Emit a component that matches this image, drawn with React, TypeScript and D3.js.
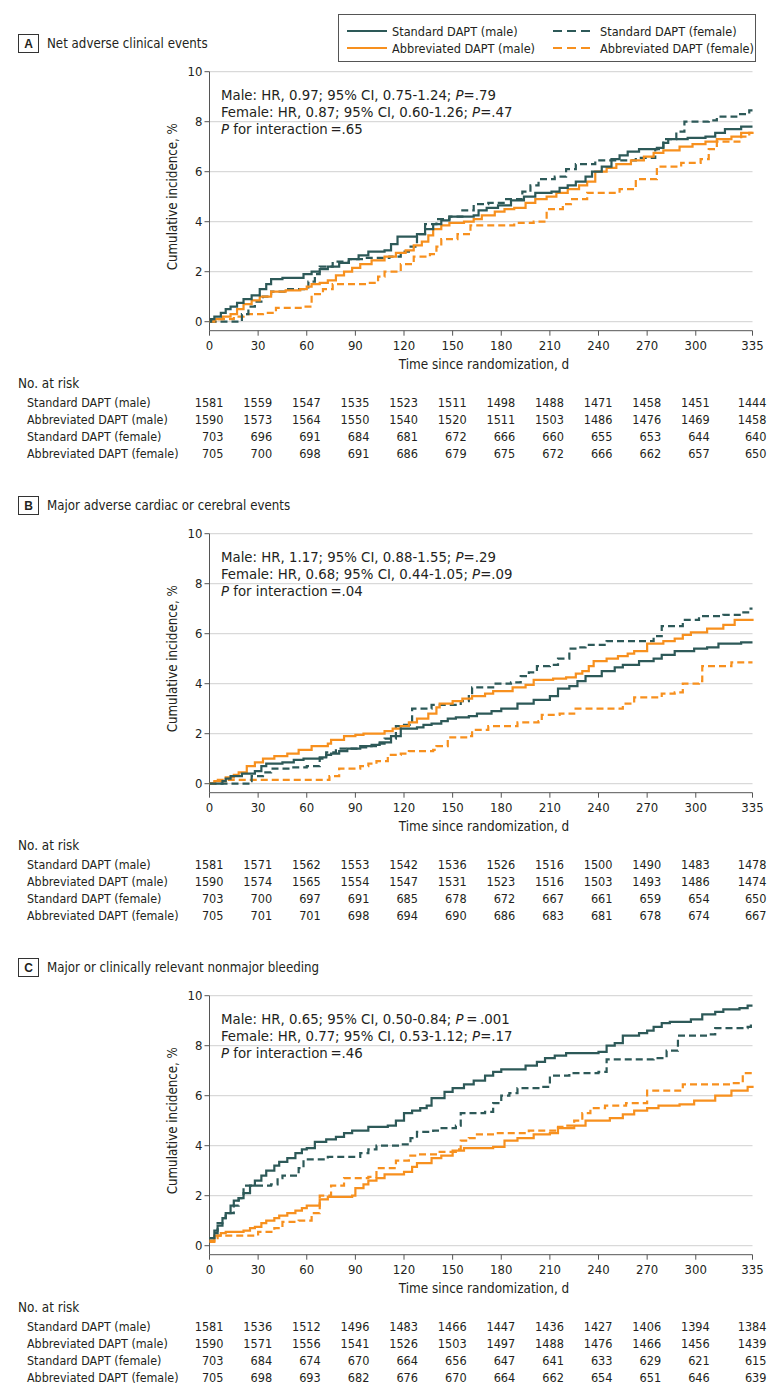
import React from 'react';
import * as d3 from 'd3';

// time axis ticks (days) and y ticks (%)
const dayTicks = [0, 30, 60, 90, 120, 150, 180, 210, 240, 270, 300, 335];
const pctTicks = [0, 2, 4, 6, 8, 10];

const groupNames = ['Standard DAPT (male)', 'Abbreviated DAPT (male)', 'Standard DAPT (female)', 'Abbreviated DAPT (female)'];
const panelLetters = ['A', 'B', 'C'];
const panelTitles = ['Net adverse clinical events', 'Major adverse cardiac or cerebral events', 'Major or clinically relevant nonmajor bleeding'];

// [prefix, text after italic P]
const statsA = [['Male: HR, 0.97; 95% CI, 0.75-1.24; ', '=.79'], ['Female: HR, 0.87; 95% CI, 0.60-1.26; ', '=.47'], ['', ' for interaction\u2009=.65']];
const statsB = [['Male: HR, 1.17; 95% CI, 0.88-1.55; ', '=.29'], ['Female: HR, 0.68; 95% CI, 0.44-1.05; ', '=.09'], ['', ' for interaction\u2009=.04']];
const statsC = [['Male: HR, 0.65; 95% CI, 0.50-0.84; ', '\u2009=\u2009.001'], ['Female: HR, 0.77; 95% CI, 0.53-1.12; ', '=.17'], ['', ' for interaction\u2009=.46']];

// cumulative incidence curves, [day, %] at each step
const aStdMale = [[0, 0], [1, 0.1], [3, 0.2], [7, 0.35], [10, 0.5], [13, 0.6], [17, 0.75], [21, 0.9], [26, 1.05], [31, 1.3], [35, 1.5], [38, 1.7], [45, 1.75], [53, 1.75], [58, 1.9], [63, 2.0], [68, 2.1], [73, 2.2], [80, 2.35], [86, 2.5], [92, 2.65], [98, 2.8], [108, 2.85], [112, 3.1], [116, 3.4], [128, 3.5], [133, 3.7], [138, 3.9], [143, 4.05], [148, 4.2], [163, 4.25], [166, 4.45], [171, 4.55], [178, 4.65], [186, 4.85], [194, 5.0], [201, 5.15], [211, 5.2], [216, 5.35], [221, 5.45], [226, 5.6], [232, 5.8], [236, 6.0], [242, 6.2], [248, 6.5], [253, 6.65], [258, 6.8], [265, 6.9], [276, 6.95], [280, 7.15], [283, 7.3], [295, 7.35], [306, 7.4], [312, 7.55], [318, 7.7], [328, 7.8], [335, 7.8]];
const aAbbMale = [[0, 0], [3, 0.1], [8, 0.2], [13, 0.3], [17, 0.5], [21, 0.7], [26, 0.85], [31, 1.0], [38, 1.2], [47, 1.25], [56, 1.3], [60, 1.4], [63, 1.5], [68, 1.55], [73, 1.65], [78, 1.85], [83, 2.0], [88, 2.15], [93, 2.3], [100, 2.45], [108, 2.6], [115, 2.75], [121, 2.85], [126, 3.05], [131, 3.2], [135, 3.45], [138, 3.7], [143, 3.85], [148, 3.95], [157, 4.0], [163, 4.1], [168, 4.25], [176, 4.4], [182, 4.5], [188, 4.55], [195, 4.75], [201, 4.9], [208, 5.0], [214, 5.15], [221, 5.3], [228, 5.45], [233, 5.6], [238, 6.0], [245, 6.15], [251, 6.3], [260, 6.45], [268, 6.6], [274, 6.75], [280, 6.85], [290, 7.0], [298, 7.1], [306, 7.2], [313, 7.3], [322, 7.4], [328, 7.55], [335, 7.6]];
const aStdFemale = [[0, 0], [20, 0.3], [24, 0.6], [28, 0.8], [33, 1.0], [38, 1.2], [47, 1.3], [56, 1.3], [61, 1.6], [65, 1.9], [68, 2.2], [76, 2.4], [86, 2.5], [96, 2.55], [111, 2.6], [118, 2.8], [123, 3.0], [128, 3.5], [133, 3.9], [140, 4.1], [148, 4.2], [156, 4.45], [163, 4.7], [172, 4.75], [183, 4.9], [193, 5.2], [198, 5.45], [203, 5.7], [213, 5.8], [220, 6.1], [226, 6.3], [238, 6.45], [263, 6.55], [275, 6.9], [280, 7.3], [288, 7.6], [293, 8.0], [308, 8.05], [313, 8.2], [325, 8.3], [333, 8.45], [335, 8.45]];
const aAbbFemale = [[0, 0], [5, 0.1], [15, 0.2], [21, 0.3], [33, 0.35], [41, 0.55], [58, 0.6], [63, 1.1], [70, 1.3], [76, 1.5], [98, 1.55], [104, 1.8], [108, 2.0], [118, 2.3], [126, 2.6], [136, 2.7], [140, 3.0], [143, 3.3], [153, 3.5], [161, 3.85], [188, 3.95], [200, 4.0], [208, 4.5], [218, 4.7], [223, 4.9], [233, 5.15], [253, 5.3], [263, 5.7], [276, 6.2], [291, 6.35], [303, 6.5], [308, 6.9], [313, 7.2], [328, 7.4], [333, 7.55], [335, 7.55]];

const bStdMale = [[0, 0], [8, 0.1], [10, 0.2], [13, 0.3], [20, 0.4], [28, 0.5], [32, 0.7], [35, 0.8], [45, 0.85], [52, 0.95], [58, 1.0], [68, 1.05], [72, 1.15], [75, 1.2], [80, 1.3], [85, 1.4], [93, 1.5], [100, 1.55], [105, 1.65], [112, 1.9], [118, 2.2], [128, 2.25], [132, 2.35], [137, 2.4], [143, 2.5], [147, 2.6], [152, 2.65], [160, 2.7], [165, 2.8], [174, 2.9], [180, 3.0], [190, 3.2], [200, 3.35], [210, 3.5], [215, 3.8], [222, 3.9], [227, 4.1], [232, 4.3], [242, 4.5], [250, 4.65], [255, 4.75], [265, 4.9], [274, 5.0], [279, 5.15], [287, 5.3], [299, 5.4], [307, 5.45], [314, 5.6], [328, 5.65], [335, 5.65]];
const bAbbMale = [[0, 0], [3, 0.1], [10, 0.25], [15, 0.35], [18, 0.45], [23, 0.7], [28, 0.85], [33, 1.0], [40, 1.1], [48, 1.2], [55, 1.35], [63, 1.5], [73, 1.6], [75, 1.75], [83, 1.9], [90, 1.95], [95, 2.0], [108, 2.1], [113, 2.2], [118, 2.3], [123, 2.45], [128, 2.6], [135, 2.8], [140, 3.05], [142, 3.2], [150, 3.3], [156, 3.4], [162, 3.5], [170, 3.6], [175, 3.7], [187, 3.85], [195, 3.95], [200, 4.15], [212, 4.2], [220, 4.25], [226, 4.4], [230, 4.5], [234, 4.7], [237, 4.9], [245, 5.0], [252, 5.1], [258, 5.2], [262, 5.3], [270, 5.6], [280, 5.7], [287, 5.8], [292, 5.95], [297, 6.05], [307, 6.2], [317, 6.35], [324, 6.55], [335, 6.6]];
const bStdFemale = [[0, 0], [24, 0.1], [26, 0.3], [33, 0.45], [38, 0.6], [50, 0.65], [60, 0.7], [68, 1.0], [72, 1.25], [78, 1.4], [92, 1.45], [98, 1.5], [104, 1.6], [108, 1.8], [115, 2.3], [120, 2.35], [125, 3.0], [137, 3.15], [155, 3.3], [160, 3.55], [162, 3.85], [175, 4.0], [186, 4.05], [192, 4.3], [197, 4.45], [202, 4.7], [210, 4.75], [215, 5.0], [222, 5.4], [228, 5.45], [232, 5.55], [245, 5.7], [274, 5.9], [279, 6.3], [292, 6.55], [302, 6.7], [317, 6.75], [328, 6.85], [333, 7.0], [335, 7.0]];
const bAbbFemale = [[0, 0], [3, 0.15], [72, 0.15], [74, 0.3], [80, 0.6], [93, 0.7], [98, 0.8], [103, 0.9], [110, 1.15], [118, 1.2], [123, 1.3], [138, 1.35], [140, 1.5], [147, 1.85], [160, 1.9], [162, 2.15], [172, 2.3], [190, 2.45], [203, 2.5], [205, 2.75], [216, 2.8], [225, 3.0], [255, 3.2], [262, 3.45], [279, 3.6], [287, 3.65], [292, 4.0], [302, 4.1], [304, 4.7], [322, 4.85], [335, 4.85]];

const cStdMale = [[0, 0.3], [3, 0.5], [5, 0.8], [8, 1.1], [10, 1.3], [13, 1.6], [15, 1.8], [18, 1.9], [21, 2.1], [25, 2.4], [28, 2.6], [32, 2.8], [35, 3.0], [40, 3.2], [43, 3.35], [48, 3.5], [53, 3.7], [57, 3.85], [60, 3.9], [65, 4.15], [72, 4.25], [78, 4.35], [83, 4.5], [88, 4.6], [98, 4.75], [110, 4.8], [115, 5.0], [120, 5.3], [125, 5.4], [130, 5.5], [134, 5.6], [137, 5.9], [145, 6.15], [150, 6.3], [157, 6.45], [163, 6.6], [170, 6.8], [175, 6.95], [180, 7.05], [195, 7.2], [202, 7.35], [207, 7.5], [213, 7.6], [220, 7.7], [240, 7.75], [245, 8.0], [250, 8.1], [255, 8.4], [265, 8.5], [270, 8.6], [274, 8.75], [279, 8.9], [284, 8.95], [297, 9.05], [304, 9.25], [312, 9.35], [317, 9.45], [327, 9.5], [332, 9.6], [335, 9.6]];
const cAbbMale = [[0, 0.2], [3, 0.4], [7, 0.5], [10, 0.55], [21, 0.6], [25, 0.7], [28, 0.75], [32, 0.9], [35, 1.0], [40, 1.1], [43, 1.2], [48, 1.3], [53, 1.4], [57, 1.5], [60, 1.6], [68, 1.85], [73, 1.95], [88, 2.0], [90, 2.3], [95, 2.45], [98, 2.6], [103, 2.7], [108, 2.85], [120, 2.95], [125, 3.15], [128, 3.3], [137, 3.5], [143, 3.6], [150, 3.8], [157, 3.9], [175, 3.95], [182, 4.2], [190, 4.3], [200, 4.45], [210, 4.5], [215, 4.7], [225, 4.8], [232, 5.0], [247, 5.1], [255, 5.25], [262, 5.4], [270, 5.5], [277, 5.6], [290, 5.65], [299, 5.8], [312, 6.0], [322, 6.2], [332, 6.35], [335, 6.4]];
const cStdFemale = [[0, 0.3], [3, 0.6], [5, 0.9], [8, 1.1], [10, 1.3], [15, 1.6], [18, 1.9], [21, 2.4], [38, 2.45], [42, 2.7], [45, 2.8], [55, 3.1], [58, 3.45], [73, 3.55], [93, 3.7], [98, 3.85], [103, 4.0], [118, 4.05], [124, 4.3], [128, 4.55], [138, 4.6], [142, 4.7], [152, 4.8], [155, 5.3], [170, 5.35], [175, 5.7], [180, 6.0], [185, 6.1], [190, 6.3], [205, 6.35], [210, 6.8], [222, 6.9], [240, 6.95], [245, 7.45], [274, 7.5], [282, 7.8], [289, 8.4], [307, 8.45], [312, 8.7], [332, 8.75], [334, 8.85], [335, 8.85]];
const cAbbFemale = [[0, 0.15], [3, 0.3], [5, 0.4], [25, 0.4], [30, 0.55], [40, 0.7], [45, 0.95], [55, 1.0], [63, 1.3], [68, 2.0], [75, 2.4], [83, 2.7], [98, 2.75], [103, 3.1], [115, 3.4], [123, 3.6], [128, 3.65], [142, 3.75], [152, 3.85], [155, 4.2], [160, 4.3], [165, 4.45], [177, 4.5], [197, 4.6], [215, 4.75], [220, 4.8], [225, 5.0], [230, 5.3], [235, 5.5], [244, 5.6], [257, 5.7], [270, 6.2], [276, 6.2], [292, 6.45], [322, 6.5], [329, 6.9], [335, 6.9]];

// numbers at risk per panel, rows in groupNames order
const riskA = [
  [1581, 1559, 1547, 1535, 1523, 1511, 1498, 1488, 1471, 1458, 1451, 1444],
  [1590, 1573, 1564, 1550, 1540, 1520, 1511, 1503, 1486, 1476, 1469, 1458],
  [703, 696, 691, 684, 681, 672, 666, 660, 655, 653, 644, 640],
  [705, 700, 698, 691, 686, 679, 675, 672, 666, 662, 657, 650],
];
const riskB = [
  [1581, 1571, 1562, 1553, 1542, 1536, 1526, 1516, 1500, 1490, 1483, 1478],
  [1590, 1574, 1565, 1554, 1547, 1531, 1523, 1516, 1503, 1493, 1486, 1474],
  [703, 700, 697, 691, 685, 678, 672, 667, 661, 659, 654, 650],
  [705, 701, 701, 698, 694, 690, 686, 683, 681, 678, 674, 667],
];
const riskC = [
  [1581, 1536, 1512, 1496, 1483, 1466, 1447, 1436, 1427, 1406, 1394, 1384],
  [1590, 1571, 1556, 1541, 1526, 1503, 1497, 1488, 1476, 1466, 1456, 1439],
  [703, 684, 674, 670, 664, 656, 647, 641, 633, 629, 621, 615],
  [705, 698, 693, 682, 676, 670, 664, 662, 654, 651, 646, 639],
];

const TEAL = '#2d5958';
const ORANGE = '#f7901e';
const INK = '#231f20';
const FONT = "'DejaVu Sans Condensed', 'Liberation Sans Narrow', sans-serif";

// group styles: [color, dashed]
const groupStyle: [string, boolean][] = [[TEAL, false], [ORANGE, false], [TEAL, true], [ORANGE, true]];

const panels = [
  { curves: [aStdMale, aAbbMale, aStdFemale, aAbbFemale], risk: riskA, stats: statsA },
  { curves: [bStdMale, bAbbMale, bStdFemale, bAbbFemale], risk: riskB, stats: statsB },
  { curves: [cStdMale, cAbbMale, cStdFemale, cAbbFemale], risk: riskC, stats: statsC },
];

const PANEL_STEP = 462;
const DASH = '7,4';

function Panel({ idx }: { idx: number }) {
  const p = panels[idx];
  const top = idx * PANEL_STEP;
  const x = d3.scaleLinear().domain([0, 335]).range([209.5, 752.5]);
  const y = d3.scaleLinear().domain([0, 10]).range([top + 321.7, top + 71.7]);
  const axisY = top + 330.7;
  const line = d3.line<number[]>()
    .x((d) => x(d[0]))
    .y((d) => y(d[1]))
    .curve(d3.curveStepAfter);

  // draw order: female dashed under, male solid on top
  const order = [3, 2, 1, 0];
  const rowY = (r: number) => top + 406.5 + r * 17;

  return (
    <g fill={INK}>
      {/* panel label */}
      <rect x={18.5} y={top + 34.5} width={20} height={18} fill="#fff" stroke="#333" strokeWidth={1} />
      <text x={28.5} y={top + 48} textAnchor="middle" fontSize={12} fontWeight="bold" fontFamily="'Liberation Sans', sans-serif">{panelLetters[idx]}</text>
      <text x={47} y={top + 48} fontSize={13.2}>{panelTitles[idx]}</text>

      {/* grid */}
      {pctTicks.map((t) => (
        <line key={'g' + t} x1={x(0)} x2={x(335)} y1={y(t)} y2={y(t)} stroke="#d9d9d9" strokeWidth={1.2} />
      ))}

      {/* y axis */}
      <line x1={x(0)} x2={x(0)} y1={y(10)} y2={axisY} stroke="#555" strokeWidth={1} />
      {pctTicks.map((t) => (
        <g key={'yt' + t}>
          <line x1={x(0) - 5} x2={x(0)} y1={y(t)} y2={y(t)} stroke="#555" strokeWidth={1} />
          <text x={x(0) - 7} y={y(t) + 4.5} textAnchor="end" fontSize={13}>{t}</text>
        </g>
      ))}
      <text transform={`translate(177,${(y(0) + y(10)) / 2}) rotate(-90)`} textAnchor="middle" fontSize={13.2}>Cumulative incidence, %</text>

      {/* x axis */}
      <line x1={x(0)} x2={x(335)} y1={axisY} y2={axisY} stroke="#555" strokeWidth={1} />
      {dayTicks.map((t) => (
        <g key={'xt' + t}>
          <line x1={x(t)} x2={x(t)} y1={axisY} y2={axisY + 5} stroke="#555" strokeWidth={1} />
          <text x={x(t)} y={axisY + 19} textAnchor="middle" fontSize={13}>{t}</text>
        </g>
      ))}
      <text x={(x(0) + x(335)) / 2 + 3} y={axisY + 38} textAnchor="middle" fontSize={13.4}>Time since randomization, d</text>

      {/* curves */}
      {order.map((g) => (
        <path key={'c' + g} d={line(p.curves[g] as number[][]) || ''} fill="none"
          stroke={groupStyle[g][0]} strokeWidth={2.2}
          strokeDasharray={groupStyle[g][1] ? DASH : undefined} />
      ))}

      {/* stats */}
      {p.stats.map((s, i) => (
        <text key={'s' + i} x={221} y={top + 99.5 + i * 17} fontSize={14.8}>
          {s[0]}<tspan fontStyle="italic">P</tspan>{s[1]}
        </text>
      ))}

      {/* numbers at risk */}
      <text x={18} y={top + 388} fontSize={13.4}>No. at risk</text>
      {p.risk.map((row, r) => (
        <g key={'r' + r}>
          <text x={27} y={rowY(r)} fontSize={12.4}>{groupNames[r]}</text>
          {row.map((v, i) => (
            <text key={i} x={x(dayTicks[i]) + 14} y={rowY(r)} textAnchor="end" fontSize={12.6}>{v}</text>
          ))}
        </g>
      ))}
    </g>
  );
}

function Legend() {
  const cols = [[347, 392], [553, 600]];
  const rows = [31, 48];
  // legend layout: column 1 male, column 2 female
  const cells = [
    { g: 0, c: 0, r: 0 },
    { g: 1, c: 0, r: 1 },
    { g: 2, c: 1, r: 0 },
    { g: 3, c: 1, r: 1 },
  ];
  return (
    <g fill={INK}>
      <rect x={338.5} y={14.5} width={417} height={47} fill="#fff" stroke="#555" strokeWidth={1} />
      {cells.map((cell) => (
        <g key={cell.g}>
          <line x1={cols[cell.c][0]} x2={cols[cell.c][0] + 40} y1={rows[cell.r]} y2={rows[cell.r]}
            stroke={groupStyle[cell.g][0]} strokeWidth={2.2}
            strokeDasharray={groupStyle[cell.g][1] ? '9,5' : undefined} />
          <text x={cols[cell.c][1]} y={rows[cell.r] + 4.5} fontSize={12.6}>{groupNames[cell.g]}</text>
        </g>
      ))}
    </g>
  );
}

export default function App() {
  return (
    <svg width={783} height={1397} fontFamily={FONT}
      style={{ position: 'absolute', left: 0, top: 0, background: '#fff' }}>
      <rect x={0} y={0} width={783} height={1397} fill="#fff" />
      {panels.map((_, i) => <Panel key={i} idx={i} />)}
      <Legend />
    </svg>
  );
}
